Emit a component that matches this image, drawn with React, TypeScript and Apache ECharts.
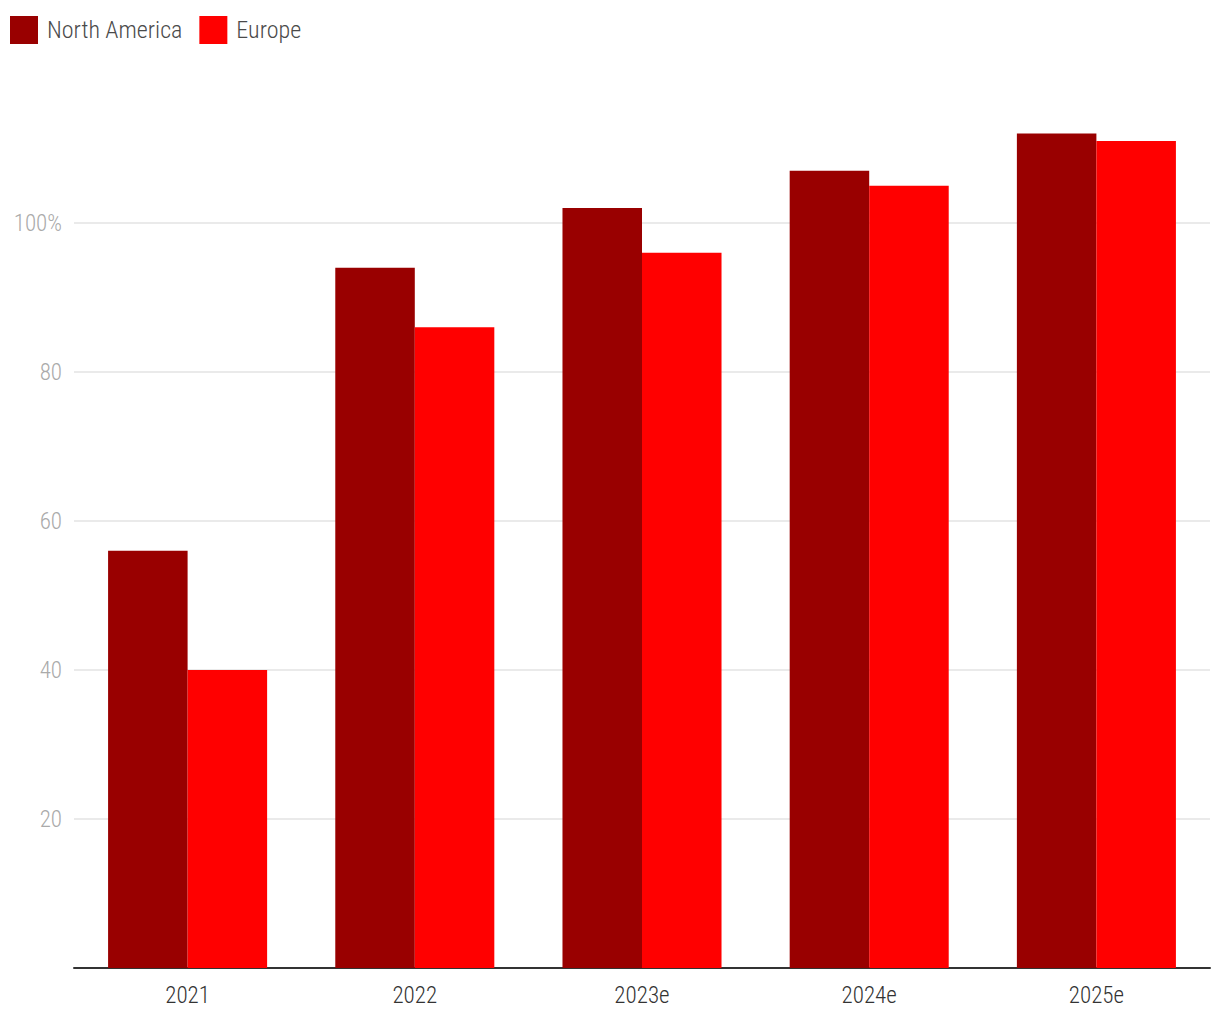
import React, { useEffect, useRef } from "react";
import * as echarts from "echarts";

const categories = ["2021", "2022", "2023e", "2024e", "2025e"];
const northAmerica = [56, 94, 102, 107, 112];
const europe = [40, 86, 96, 105, 111];
const seriesNames = ["North America", "Europe"];

const FONT = "'Roboto Condensed', 'Liberation Sans Narrow', 'DejaVu Sans Condensed', 'Arial Narrow', sans-serif";

export default function App() {
  const ref = useRef<HTMLDivElement>(null);
  useEffect(() => {
    if (!ref.current) return;
    const chart = echarts.init(ref.current, undefined, { renderer: "svg" });
    chart.setOption({
      animation: false,
      textStyle: { fontFamily: FONT, fontWeight: 300 },
      legend: {
        left: 5,
        top: 11,
        itemWidth: 28,
        itemHeight: 28,
        itemGap: 17,
        icon: "rect",
        textStyle: { fontSize: 24, color: "#4a4a4a", fontFamily: FONT, fontWeight: 300, padding: [0, 0, 0, 4] },
        data: seriesNames,
      },
      grid: { left: 74, right: 10, top: 74, bottom: 52, containLabel: false },
      xAxis: {
        type: "category",
        data: categories,
        axisTick: { show: false },
        axisLine: { lineStyle: { color: "#333", width: 2 } },
        axisLabel: { color: "#333", fontSize: 23, margin: 16, fontFamily: FONT, fontWeight: 300 },
      },
      yAxis: {
        type: "value",
        min: 0,
        max: 120,
        interval: 20,
        axisLine: { show: false },
        axisTick: { show: false },
        axisLabel: {
          color: "#aaa",
          fontSize: 23,
          margin: 12,
          fontFamily: FONT,
          fontWeight: 300,
          showMaxLabel: false,
          formatter: (v: number) => (v === 0 || v === 120 ? "" : v === 100 ? "100%" : String(v)),
        },
        splitLine: { show: true, showMaxLine: false, lineStyle: { color: "#e3e3e3", width: 1.5 } },
      },
      series: [
        {
          name: seriesNames[0],
          type: "bar",
          data: northAmerica,
          itemStyle: { color: "#990000" },
          barGap: "0%",
          barCategoryGap: "30%",
        },
        {
          name: seriesNames[1],
          type: "bar",
          data: europe,
          itemStyle: { color: "#ff0000" },
          barGap: "0%",
          barCategoryGap: "30%",
        },
      ],
    });
    return () => chart.dispose();
  }, []);
  return (
    <div
      ref={ref}
      style={{ position: "fixed", left: 0, top: 0, width: 1220, height: 1020, background: "#fff" }}
    />
  );
}
